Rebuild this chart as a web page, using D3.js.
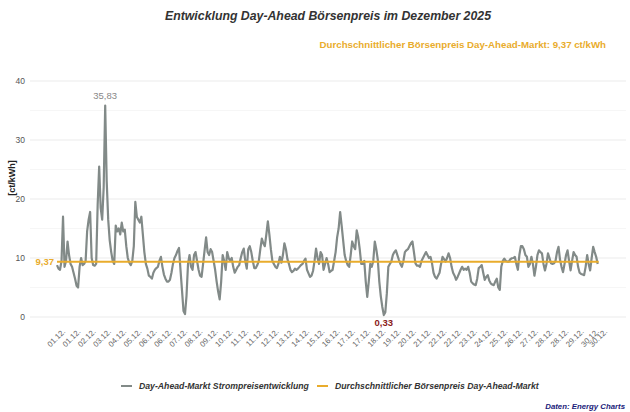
<!DOCTYPE html>
<html>
<head>
<meta charset="utf-8">
<script src="https://cdn.jsdelivr.net/npm/d3@7"></script>
<style>
  html, body { margin: 0; padding: 0; background: #fff; }
  svg { display: block; font-family: "Liberation Sans", Arial, sans-serif; }
</style>
</head>
<body>
<svg id="chart" width="630" height="412"></svg>
<script>
// ---- data (2-hourly Day-Ahead prices, ct/kWh, 01.12.–30.12.2025) ----
const startTime = "2025-12-01T00:00";
const endTime = "2025-12-30T23:45";
const stepHours = 2;
const prices = [
  8.8, 8.2, 8.0, 9.5, 17.0, 8.5, 9.5, 12.8, 10.5, 9.0, 8.5, 7.5,
  6.5, 5.3, 5.0, 8.5, 10.0, 8.8, 9.0, 9.5, 14.5, 16.5, 17.8, 10.0,
  8.8, 8.7, 9.0, 19.0, 25.5, 18.5, 16.5, 22.0, 35.83, 23.0, 16.5, 13.0,
  11.0, 9.5, 9.0, 15.5, 14.5, 15.0, 14.0, 16.0, 14.5, 14.8, 12.0, 10.0,
  9.2, 8.8, 9.5, 12.0, 19.5, 17.0, 16.5, 16.0, 17.0, 14.0, 11.0, 9.0,
  8.2, 7.0, 6.8, 6.5, 7.5, 8.0, 8.3, 8.5, 9.5, 10.2, 8.5, 7.2,
  6.5, 6.0, 6.0, 6.3, 7.5, 9.0, 10.0, 10.5, 11.2, 11.7, 8.0, 4.5,
  1.0, 0.5, 3.6, 9.0, 10.5, 8.5, 8.0, 10.5, 11.0, 9.5, 8.0, 7.0,
  6.8, 9.0, 11.3, 13.5, 11.0, 10.5, 11.5, 11.0, 9.5, 8.0, 6.0, 4.3,
  3.0, 6.0, 10.5, 9.5, 8.0, 11.0, 10.0, 9.5, 10.0, 8.5, 7.5, 8.0,
  8.5, 8.8, 10.0, 11.0, 11.6, 9.5, 8.2, 11.5, 12.0, 11.0, 9.5, 8.3,
  8.3, 8.8, 9.5, 11.5, 13.3, 12.5, 12.0, 14.0, 16.2, 14.0, 11.5, 9.5,
  9.0, 8.5, 8.3, 9.0, 10.2, 9.2, 10.5, 12.5, 11.5, 9.8, 9.0, 8.0,
  7.6, 7.8, 8.2, 8.0, 8.2, 8.5, 8.8, 9.0, 9.5, 9.9, 8.0, 7.4,
  6.8, 7.0, 7.8, 9.5, 11.6, 10.0, 9.0, 11.0, 10.5, 8.0, 9.0, 10.0,
  9.0, 7.6, 7.8, 8.0, 9.5, 11.0, 13.5, 15.0, 17.8, 15.5, 13.0, 10.5,
  9.5, 8.8, 8.5, 10.5, 12.8, 12.0, 11.5, 14.7, 13.5, 11.5, 9.0, 9.0,
  9.5, 6.0, 3.4, 6.0, 9.0, 8.5, 9.5, 12.8, 11.5, 9.7, 6.0, 3.5,
  1.7, 0.33, 0.8, 4.0, 8.5, 9.0, 9.4, 10.5, 11.0, 11.3, 10.5, 9.7,
  9.0, 8.5, 9.5, 11.0, 11.3, 11.5, 12.0, 12.5, 12.8, 11.0, 9.1, 8.7,
  8.7, 8.5, 9.5, 10.0, 10.5, 11.0, 10.5, 10.0, 10.2, 9.1, 7.5, 6.8,
  6.5, 7.0, 7.5, 9.0, 10.2, 9.8, 9.4, 10.0, 10.8, 10.0, 8.5, 7.5,
  7.0, 6.3, 6.8, 7.4, 8.0, 8.5, 8.0, 8.2, 8.0, 8.5, 7.5, 6.0,
  5.7, 5.5, 5.4, 6.5, 8.3, 8.5, 8.8, 7.5, 6.3, 6.8, 7.1, 6.2,
  5.7, 5.5, 5.4, 6.0, 6.5, 5.0, 4.6, 8.5, 9.5, 9.9, 9.5, 9.4,
  9.4, 9.8, 9.95, 10.0, 10.2, 9.0, 8.0, 10.5, 12.0, 12.0, 11.5, 10.5,
  10.2, 8.5, 9.0, 10.2, 9.0, 7.0, 8.5, 10.5, 11.3, 11.0, 10.8, 9.0,
  7.9, 9.0, 10.8, 10.0, 9.1, 9.0, 9.1, 9.5, 11.0, 11.9, 9.7, 8.5,
  7.6, 9.0, 10.5, 11.3, 9.5, 7.9, 9.5, 11.0, 10.5, 10.2, 8.5, 7.5,
  7.3, 7.2, 7.1, 8.5, 10.5, 9.0, 7.9, 10.0, 11.9, 11.0, 10.2, 9.0
];
const averagePrice = 9.37;
const yTicks = [0, 10, 20, 30, 40];
const yMinorTicks = [5, 15, 25, 35];
const tickStepMinutes = 1215; // every 81st quarter hour
const tickLabels = [
  "01.12.", "01.12.", "02.12.", "03.12.", "04.12.", "05.12.", "06.12.", "06.12.",
  "07.12.", "08.12.", "09.12.", "10.12.", "11.12.", "11.12.", "12.12.", "13.12.",
  "14.12.", "15.12.", "16.12.", "17.12.", "17.12.", "18.12.", "19.12.", "20.12.",
  "21.12.", "22.12.", "22.12.", "23.12.", "24.12.", "25.12.", "26.12.", "27.12.",
  "28.12.", "28.12.", "29.12.", "30.12.", "30.12."
];
const titleText = "Entwicklung Day-Ahead Börsenpreis im Dezember 2025";
const subtitleText = "Durchschnittlicher Börsenpreis Day-Ahead-Markt: 9,37 ct/kWh";
const yTitle = "[ct/kWh]";
const legendLabels = ["Day-Ahead-Markt Strompreisentwicklung", "Durchschnittlicher Börsenpreis Day-Ahead-Markt"];
const sourceText = "Daten: Energy Charts";

// ---- setup ----
const parse = d3.timeParse("%Y-%m-%dT%H:%M");
const t0 = parse(startTime), t1 = parse(endTime);
const data = prices.map((v, i) => ({ t: d3.timeHour.offset(t0, i * stepHours), v }));
const tickDates = tickLabels.map((_, i) =>
  i < tickLabels.length - 1 ? d3.timeMinute.offset(t0, i * tickStepMinutes) : t1);

const de = d3.formatLocale({ decimal: ",", thousands: ".", grouping: [3], currency: ["", " €"] });
const fmt2 = de.format(".2f");

const grey = "#828a88";
const gold = "#e9ac2c";
const fontFam = "'Liberation Sans', Arial, sans-serif";

const svg = d3.select("#chart");
const x = d3.scaleTime().domain([t0, t1]).range([57, 599]);
const y = d3.scaleLinear().domain([0, 40]).range([317, 81]);
const gridX0 = 30, gridX1 = 626;

// gridlines
svg.append("g").selectAll("line").data(yMinorTicks).join("line")
  .attr("x1", gridX0).attr("x2", gridX1)
  .attr("y1", d => y(d)).attr("y2", d => y(d))
  .attr("stroke", "#f4f4f4").attr("stroke-width", 0.8);
svg.append("g").selectAll("line").data(yTicks).join("line")
  .attr("x1", gridX0).attr("x2", gridX1)
  .attr("y1", d => y(d)).attr("y2", d => y(d))
  .attr("stroke", "#ebebeb").attr("stroke-width", 1);

// y axis
const yAxis = svg.append("g").attr("transform", "translate(27,0)")
  .call(d3.axisLeft(y).tickValues(yTicks).tickSize(0).tickPadding(2));
yAxis.select(".domain").remove();
yAxis.selectAll("text").attr("fill", "#555").attr("font-size", 8.5)
  .style("font-family", fontFam);

// x axis
const xAxis = svg.append("g").attr("transform", "translate(0,328)")
  .call(d3.axisBottom(x).tickValues(tickDates).tickFormat((d, i) => tickLabels[i]).tickSize(0));
xAxis.select(".domain").remove();
xAxis.selectAll("text")
  .attr("fill", "#666").attr("font-size", 7.8)
  .style("font-family", fontFam)
  .attr("text-anchor", "end")
  .attr("dy", "0.35em").attr("y", 6).attr("x", 3)
  .attr("transform", "rotate(-45)");

// price line
svg.append("path").datum(data)
  .attr("fill", "none").attr("stroke", grey).attr("stroke-width", 2.2)
  .attr("stroke-linejoin", "round")
  .attr("d", d3.line().x(d => x(d.t)).y(d => y(d.v)));

// average line
svg.append("line")
  .attr("x1", x(t0)).attr("x2", x(data[data.length - 1].t) + 1)
  .attr("y1", y(averagePrice)).attr("y2", y(averagePrice))
  .attr("stroke", gold).attr("stroke-width", 2);
svg.append("text").attr("x", 54).attr("y", y(averagePrice)).attr("dy", "0.35em")
  .attr("text-anchor", "end").attr("fill", gold).attr("font-size", 9.5).attr("font-weight", "bold")
  .text(fmt2(averagePrice));

// max / min annotations
const maxD = data.reduce((a, b) => (b.v > a.v ? b : a));
const minD = data.reduce((a, b) => (b.v < a.v ? b : a));
svg.append("text").attr("x", x(maxD.t)).attr("y", y(maxD.v) - 7)
  .attr("text-anchor", "middle").attr("fill", "#888").attr("font-size", 9.5)
  .text(fmt2(maxD.v));
svg.append("text").attr("x", x(minD.t)).attr("y", y(minD.v) + 11)
  .attr("text-anchor", "middle").attr("fill", "#8b1a1a").attr("font-size", 9.5).attr("font-weight", "bold")
  .text(fmt2(minD.v));

// titles
svg.append("text").attr("x", 328).attr("y", 20).attr("text-anchor", "middle")
  .attr("font-size", 12.3).attr("font-weight", "bold").attr("font-style", "italic").attr("fill", "#333")
  .text(titleText);
svg.append("text").attr("x", 606).attr("y", 48).attr("text-anchor", "end")
  .attr("font-size", 9.7).attr("font-weight", "bold").attr("fill", gold)
  .text(subtitleText);
svg.append("text").attr("transform", "translate(15,178) rotate(-90)").attr("text-anchor", "middle")
  .attr("font-size", 9).attr("font-weight", "bold").attr("fill", "#222")
  .text(yTitle);

// legend
const legend = [
  { label: legendLabels[0], color: grey, x: 121 },
  { label: legendLabels[1], color: gold, x: 317 }
];
const lg = svg.append("g").attr("transform", "translate(0,386)");
legend.forEach(l => {
  lg.append("line").attr("x1", l.x).attr("x2", l.x + 11).attr("y1", 0).attr("y2", 0)
    .attr("stroke", l.color).attr("stroke-width", 2);
  lg.append("text").attr("x", l.x + 18).attr("y", 0).attr("dy", "0.35em")
    .attr("font-size", 8.7).attr("font-weight", "bold").attr("font-style", "italic").attr("fill", "#333")
    .text(l.label);
});

// source
svg.append("text").attr("x", 625).attr("y", 409).attr("text-anchor", "end")
  .attr("font-size", 7.8).attr("font-weight", "bold").attr("font-style", "italic").attr("fill", "#1b1b7a")
  .text(sourceText);
</script>
</body>
</html>
